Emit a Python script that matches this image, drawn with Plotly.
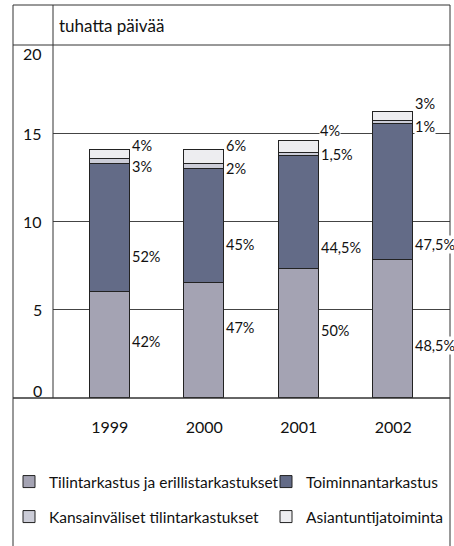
import plotly.graph_objects as go

years = ["1999", "2000", "2001", "2002"]

# thousand days per activity
tilintarkastus = [6.0, 6.5, 7.3, 7.8]
toiminnantarkastus = [7.25, 6.45, 6.4, 7.7]
kansainvaliset = [0.3, 0.3, 0.2, 0.2]
asiantuntija = [0.5, 0.8, 0.68, 0.5]

pct_tilin = ["42%", "47%", "50%", "48,5%"]
pct_toim = ["52%", "45%", "44,5%", "47,5%"]
pct_kans = ["3%", "2%", "1,5%", "1%"]
pct_asian = ["4%", "6%", "4%", "3%"]

y_ticks = [0, 5, 10, 15, 20]

# where the percentage labels sit (y in axis units)
lab_y_tilin = [3.2, 4.0, 3.8, 3.0]
lab_y_toim = [8.0, 8.67, 8.5, 8.67]
lab_y_kans = [13.14, 13.03, 13.77, 15.41]
lab_y_asian = [14.33, 14.33, 15.13, 16.71]

FONT = "Lato"
L, R, T, B = 53, 4, 45, 148
PW, PH = 454 - L - R, 546 - T - B


def px_x(px):
    return (px - L) / PW


def px_y(py):
    return (546 - B - py) / PH


# name, values, colour, legend id, legend position (px)
series = [
    ("Tilintarkastus ja erillistarkastukset", tilintarkastus, "#a4a3b3", "legend", (9, 482)),
    ("Toiminnantarkastus", toiminnantarkastus, "#636b87", "legend2", (266, 482)),
    ("Kansainväliset tilintarkastukset", kansainvaliset, "#cccdd8", "legend3", (9, 517)),
    ("Asiantuntijatoiminta", asiantuntija, "#ededf0", "legend4", (266, 517)),
]

fig = go.Figure()
legends = {}
for name, vals, color, leg, (lx, ly) in series:
    fig.add_trace(go.Bar(
        x=years, y=vals, name=name, width=0.42, showlegend=True,
        marker=dict(color=color, line=dict(color="#222222", width=1)),
        legend=leg,
    ))
    legends[leg] = dict(
        x=px_x(lx), y=px_y(ly), xanchor="left", yanchor="middle",
        orientation="h", bgcolor="rgba(0,0,0,0)",
        font=dict(family=FONT, size=15.5, color="#111111"),
        itemclick=False, itemdoubleclick=False,
    )

annotations = []
for texts, ys in [(pct_tilin, lab_y_tilin), (pct_toim, lab_y_toim),
                  (pct_kans, lab_y_kans), (pct_asian, lab_y_asian)]:
    for i, (t, yv) in enumerate(zip(texts, ys)):
        centered = texts is pct_asian and i == 2
        annotations.append(dict(
            x=i, y=yv, text=t, showarrow=False,
            xanchor="center" if centered else "left",
            xshift=31 if centered else 21,
            bgcolor="white", borderpad=0,
            font=dict(family=FONT, size=14.5, color="#111111"),
        ))

for v in y_ticks:
    anchor = "top" if v == max(y_ticks) else ("bottom" if v == 0 else "middle")
    annotations.append(dict(
        xref="paper", x=px_x(44), y=v, text=str(v), showarrow=False,
        xanchor="right", yanchor=anchor,
        yshift=3 if anchor == "top" else (-4 if anchor == "bottom" else 0),
        font=dict(family=FONT, size=16, color="#111111"),
    ))

annotations.append(dict(
    xref="paper", yref="paper", x=px_x(57), y=px_y(25), text="tuhatta päivää",
    showarrow=False, xanchor="left", yanchor="middle",
    font=dict(family=FONT, size=17, color="#111111"),
))

line = dict(color="#333333", width=1)
shapes = [
    # outer frame
    dict(type="rect", xref="paper", yref="paper", x0=px_x(13), x1=px_x(450),
         y0=-0.5, y1=px_y(5), line=line),
    # header separator and baseline
    dict(type="line", xref="paper", yref="paper", x0=px_x(13), x1=px_x(450),
         y0=1.0, y1=1.0, line=line),
    dict(type="line", xref="paper", yref="paper", x0=px_x(13), x1=px_x(450),
         y0=0, y1=0, line=dict(color="#333333", width=1.5)),
    # axis column separator
    dict(type="line", xref="paper", yref="paper", x0=0, x1=0,
         y0=0, y1=px_y(5), line=line),
]

fig.update_layout(
    width=454, height=546,
    margin=dict(l=L, r=R, t=T, b=B),
    paper_bgcolor="white", plot_bgcolor="white",
    barmode="stack", bargap=0, showlegend=True,
    font=dict(family=FONT, size=15, color="#111111"),
    xaxis=dict(type="category", range=[-0.6, 3.6], showgrid=False,
               showline=False, ticks="", ticklabelstandoff=18,
               tickfont=dict(family=FONT, size=16, color="#111111"),
               fixedrange=True),
    yaxis=dict(range=[0, 20], tickvals=[5, 10, 15], showticklabels=False,
               showgrid=True, gridcolor="#444444", gridwidth=1,
               zeroline=False, showline=False, fixedrange=True),
    annotations=annotations,
    shapes=shapes,
    **legends,
)

fig.write_html("out.html", config={"displayModeBar": False},
               post_script="document.body.style.margin = '0';")
